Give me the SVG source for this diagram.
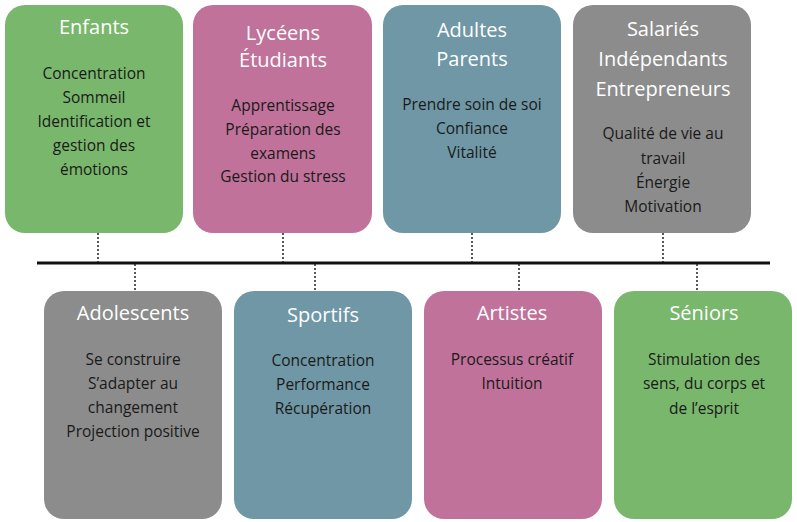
<svg xmlns="http://www.w3.org/2000/svg" width="797" height="522" viewBox="0 0 797 522">
<style>
.t{font-family:"Open Sans","Liberation Sans",sans-serif;font-size:20px;fill:#fff;text-anchor:middle}
.b{font-family:"Open Sans","Liberation Sans",sans-serif;font-size:15.5px;fill:#1a1a1a;text-anchor:middle}
.g{fill:#79b76c}.p{fill:#c0729a}.u{fill:#6f97a5}.k{fill:#8c8c8c}
.d{stroke:#222;stroke-width:1.5;stroke-dasharray:2,2}
</style>
<rect width="797" height="522" fill="#fff"/>
<g id="connectors">
<line x1="37" y1="263" x2="770" y2="263" stroke="#111" stroke-width="3"/>
<line class="d" x1="98" y1="233" x2="98" y2="262"/>
<line class="d" x1="283" y1="233" x2="283" y2="262"/>
<line class="d" x1="472" y1="233" x2="472" y2="262"/>
<line class="d" x1="663" y1="233" x2="663" y2="262"/>
<line class="d" x1="135" y1="264" x2="135" y2="291"/>
<line class="d" x1="315" y1="264" x2="315" y2="291"/>
<line class="d" x1="519" y1="264" x2="519" y2="291"/>
<line class="d" x1="697" y1="264" x2="697" y2="291"/>
</g>
<g id="enfants"><rect class="g" x="5" y="5" width="178" height="228" rx="20"/>
<text class="t" x="94" y="34">Enfants</text>
<text class="b" x="94" y="79">Concentration</text><text class="b" x="94" y="103">Sommeil</text><text class="b" x="94" y="127">Identification et</text><text class="b" x="94" y="151">gestion des</text><text class="b" x="94" y="175">émotions</text></g>
<g id="lyceens"><rect class="p" x="193" y="5" width="179" height="228" rx="20"/>
<text class="t" x="283" y="40">Lycéens</text><text class="t" x="283" y="67">Étudiants</text>
<text class="b" x="283" y="111">Apprentissage</text><text class="b" x="283" y="135">Préparation des</text><text class="b" x="283" y="159">examens</text><text class="b" x="283" y="182">Gestion du stress</text></g>
<g id="adultes"><rect class="u" x="383" y="5" width="178" height="228" rx="20"/>
<text class="t" x="472" y="37">Adultes</text><text class="t" x="472" y="66">Parents</text>
<text class="b" x="472" y="110">Prendre soin de soi</text><text class="b" x="472" y="134">Confiance</text><text class="b" x="472" y="158">Vitalité</text></g>
<g id="salaries"><rect class="k" x="573" y="5" width="178" height="228" rx="20"/>
<text class="t" x="663" y="36">Salariés</text><text class="t" x="663" y="66">Indépendants</text><text class="t" x="663" y="96">Entrepreneurs</text>
<text class="b" x="663" y="139">Qualité de vie au</text><text class="b" x="663" y="164">travail</text><text class="b" x="663" y="188">Énergie</text><text class="b" x="663" y="212">Motivation</text></g>
<g id="adolescents"><rect class="k" x="44" y="291" width="178" height="228" rx="20"/>
<text class="t" x="133" y="320">Adolescents</text>
<text class="b" x="133" y="365">Se construire</text><text class="b" x="133" y="389">S’adapter au</text><text class="b" x="133" y="413">changement</text><text class="b" x="133" y="437">Projection positive</text></g>
<g id="sportifs"><rect class="u" x="234" y="291" width="178" height="228" rx="20"/>
<text class="t" x="323" y="322">Sportifs</text>
<text class="b" x="323" y="366">Concentration</text><text class="b" x="323" y="390">Performance</text><text class="b" x="323" y="414">Récupération</text></g>
<g id="artistes"><rect class="p" x="424" y="291" width="178" height="228" rx="20"/>
<text class="t" x="512" y="320">Artistes</text>
<text class="b" x="512" y="365">Processus créatif</text><text class="b" x="512" y="389">Intuition</text></g>
<g id="seniors"><rect class="g" x="614" y="291" width="178" height="228" rx="20"/>
<text class="t" x="704" y="320">Séniors</text>
<text class="b" x="704" y="365">Stimulation des</text><text class="b" x="704" y="389">sens, du corps et</text><text class="b" x="704" y="414">de l’esprit</text></g>
</svg>
